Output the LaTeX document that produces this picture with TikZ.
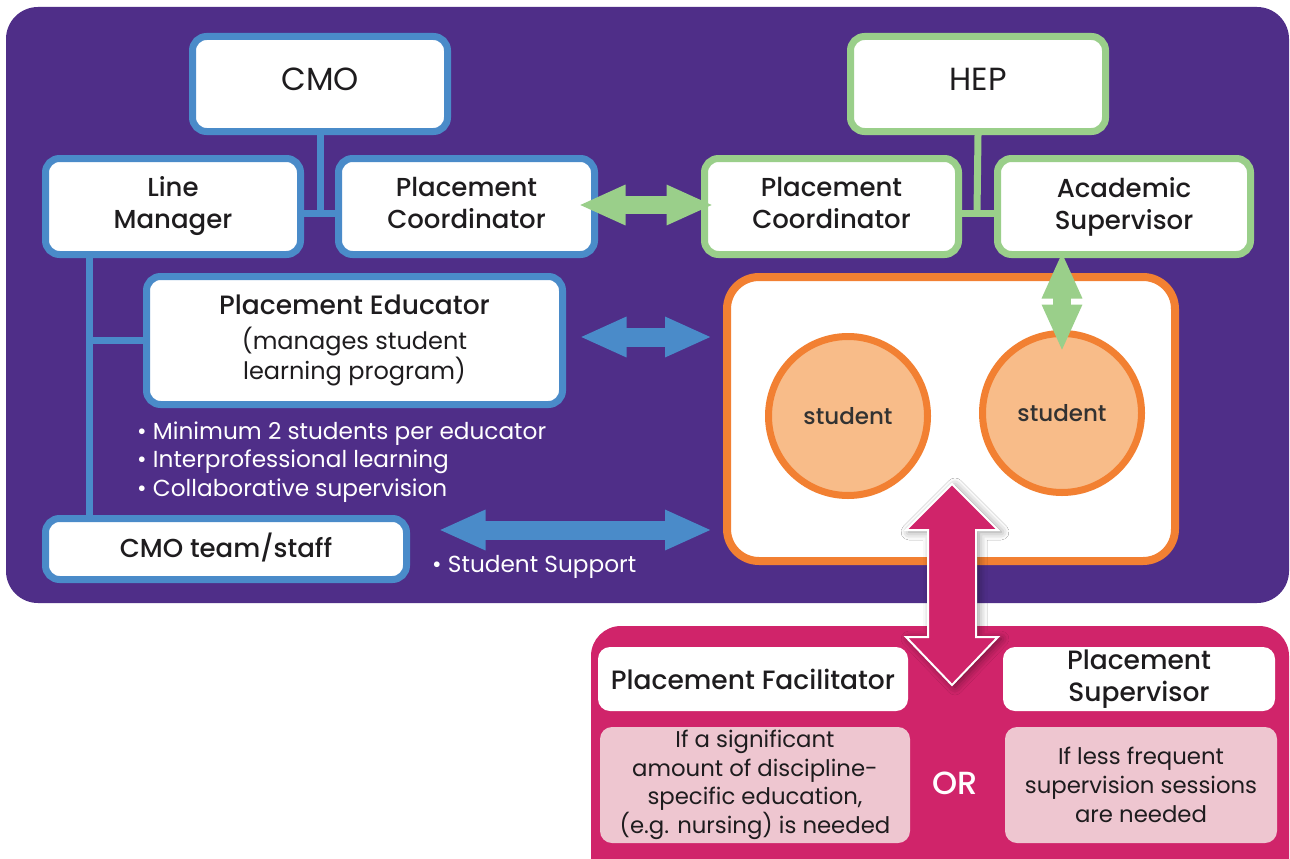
\documentclass[tikz,border=0pt]{standalone}
\usepackage{fontspec}
\setmainfont{Poppins}[BoldFont={Poppins Medium}]
\usetikzlibrary{arrows.meta,shadows.blur,calc}
\definecolor{purp}{RGB}{79,46,136}
\definecolor{blueC}{RGB}{74,139,201}
\definecolor{greenC}{RGB}{154,207,138}
\definecolor{orangeC}{RGB}{242,128,50}
\definecolor{peach}{RGB}{248,188,137}
\definecolor{mag}{RGB}{208,36,106}
\definecolor{palepink}{RGB}{238,198,208}
\definecolor{txt}{RGB}{30,28,30}
\definecolor{stxt}{RGB}{50,50,50}
\newcommand\myfs[2]{\fontsize{#1}{#2}\selectfont}
\newcommand\dg{\vphantom{g}}
\begin{document}
\begin{tikzpicture}[x=1pt,y=-1pt,
  bbox/.style={draw=blueC, line width=7pt, fill=white, rounded corners=14pt, align=center, inner sep=0pt, text=txt, font={\myfs{26}{32}\bfseries}},
  gbox/.style={bbox, draw=greenC},
  wbox/.style={fill=white, rounded corners=12pt, align=center, inner sep=0pt, text=txt, font={\myfs{26.5}{32}\bfseries}},
  pbox/.style={fill=palepink, rounded corners=12pt, align=center, inner sep=0pt, text=txt, font={\myfs{22.8}{28.7}}},
  stud/.style={circle, draw=orangeC, line width=7pt, fill=peach, minimum size=159pt, inner sep=0pt, text=stxt, font={\myfs{23}{24}\bfseries}},
  bline/.style={draw=blueC, line width=7pt},
  gline/.style={draw=greenC, line width=7pt},
  garrow/.style={draw=greenC, line width=18pt, arrows={Triangle[length=47pt,width=37pt]-Triangle[length=47pt,width=37pt]}},
  barrow/.style={draw=blueC, line width=19pt, arrows={Triangle[length=47pt,width=37pt]-Triangle[length=47pt,width=37pt]}},
  wtext/.style={text=white, align=left, inner sep=0pt, font={\myfs{23.2}{28.5}}}
]
\useasboundingbox[fill=white] (0,0) rectangle (1290,859);
% panels
\fill[purp, rounded corners=32pt] (6,7) rectangle (1289,603);
\fill[mag, rounded corners=30pt] (591,626) rectangle (1289,900);

% boxes
\node[bbox, minimum width=255pt, minimum height=95pt, font={\myfs{32}{36}}] (CMO) at (320,84) {CMO\dg};
\node[gbox, minimum width=255pt, minimum height=95pt, font={\myfs{32}{36}}] (HEP) at (978,84) {HEP\dg};
\node[bbox, minimum width=255pt, minimum height=96pt] (LM) at (173,206.5) {Line\\Manager};
\node[bbox, minimum width=256pt, minimum height=96pt] (PCc) at (466.5,206.5) {Placement\\Coordinator\dg};
\node[gbox, minimum width=254pt, minimum height=96pt] (PCh) at (831.5,206.5) {Placement\\Coordinator\dg};
\node[gbox, minimum width=253pt, minimum height=96pt] (AS) at (1124,206.5) {Academic\\Supervisor};
\node[bbox, minimum width=416pt, minimum height=128pt, font={\myfs{24}{28.5}}] (PE) at (354.5,340.5) {{\myfs{26.5}{28}\bfseries Placement Educator}\\[6pt](manages student\\learning program)};
\node[bbox, minimum width=361pt, minimum height=61pt] (CMOt) at (226,549) {CMO team/staff\dg};

% connector lines (ends sit on the borders, same colour)
\coordinate (j1) at (320,213);
\coordinate (j2) at (977,213);
\coordinate (v) at (89,0);
\draw[bline] (CMO.south) -- (j1);
\draw[bline] (LM.east |- j1) -- (PCc.west |- j1);
\draw[bline] (v |- LM.south) -- (v |- CMOt.north);
\draw[bline] (v |- PE.west) -- (PE.west);
\draw[gline] (HEP.south) -- (j2);
\draw[gline] (PCh.east |- j2) -- (AS.west |- j2);

% bullets
\node[wtext, anchor=west] (bul) at (137,462) {\textbullet\ Minimum 2 students per educator\\\textbullet\ Interprofessional learning\\\textbullet\ Collaborative supervision};
\node[wtext, anchor=west] (sup) at (432,567) {\textbullet\ Student Support};

% student group
\node[draw=orangeC, line width=8pt, fill=white, rounded corners=32pt, minimum width=448pt, minimum height=284pt, inner sep=0pt] (grp) at (951,419) {};
\node[stud] (s1) at (848,416) {student};
\node[stud] (s2) at (1062,413) {student};

% pink panel boxes
\node[wbox, minimum width=310pt, minimum height=64pt] (PF) at (753,679) {Placement Facilitator};
\node[wbox, minimum width=272pt, minimum height=64pt] (PS) at (1139,679) {Placement\\Supervisor};
\node[pbox, minimum width=310pt, minimum height=116pt] (PFt) at (755,785) {If a significant\\amount of discipline-\\specific education,\\(e.g. nursing) is needed};
\node[pbox, minimum width=272pt, minimum height=116pt] (PSt) at (1141,785) {If less frequent\\supervision sessions\\are needed};
\node[text=white, inner sep=0pt, font={\myfs{32}{34}\bfseries}] (or) at (955,783) {OR};

% arrows
\draw[garrow] ([xshift=-19.5pt,yshift=1.5pt]PCc.east) -- ([xshift=12.5pt,yshift=1.5pt]PCh.west);
\draw[garrow] ($(s2.north |- AS.south)+(0,-6.5)$) -- ($(s2.north)+(0,21.5)$);
\draw[barrow] ($(PE.east)+(13.5,-3.5)$) -- ($(grp.west |- PE.east)+(-11,-3.5)$);
\draw[barrow] ($(CMOt.east)+(28.5,-19)$) -- ($(grp.west |- CMOt.east)+(-11,-19)$);

% magenta double arrow
\draw[fill=mag, draw=white, line width=2pt, line join=miter,
  blur shadow={shadow blur radius=8pt, shadow xshift=3pt, shadow yshift=-2pt, shadow opacity=45}]
  (952,484) -- (998,530) -- (976,530) -- (976,637) -- (998,637) -- (952,685) -- (906,637) -- (928,637) -- (928,530) -- (906,530) -- cycle;
\end{tikzpicture}
\end{document}
